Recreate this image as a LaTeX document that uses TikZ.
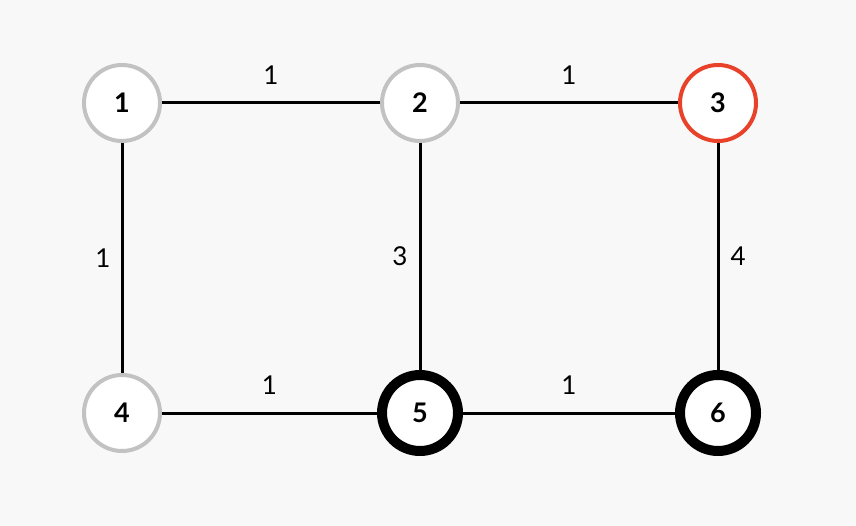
\documentclass[tikz,border=0pt]{standalone}
\usepackage{fontspec}
\setmainfont{Lato}
\usepackage{xcolor}
\usetikzlibrary{positioning}
\definecolor{bgcol}{HTML}{F8F8F8}
\definecolor{ringgray}{HTML}{C2C2C2}
\definecolor{ringred}{HTML}{E8432A}

\begin{document}
\begin{tikzpicture}[x=1pt, y=-1pt,
  vertex/.style={circle, fill=white, minimum size=76pt, inner sep=0pt,
    font=\fontsize{27}{30}\selectfont\bfseries},
  plain/.style={vertex, draw=ringgray, line width=4pt},
  start/.style={vertex, draw=ringred, line width=4pt},
  done/.style={vertex, draw=black, line width=10pt},
  edge/.style={line width=3pt},
  weight/.style={inner sep=0pt, font=\fontsize{26}{30}\selectfont}]
  \fill[bgcol] (0,0) rectangle (856,526);
  \useasboundingbox (0,0) rectangle (856,526);
  % vertices
  \node[plain] (n1) at (122,103) {1};
  \node[plain] (n2) at (420,103) {2};
  \node[start] (n3) at (718,103) {3};
  \node[plain] (n4) at (122,413) {4};
  \node[done]  (n5) at (420,413) {5};
  \node[done]  (n6) at (718,413) {6};
  % edges
  \draw[edge] (n1) -- node[weight, above=17pt] {1} (n2);
  \draw[edge] (n2) -- node[weight, above=17pt] {1} (n3);
  \draw[edge] (n1) -- node[weight, left=10pt] {1} (n4);
  \draw[edge] (n2) -- node[weight, left=11pt] {3} (n5);
  \draw[edge] (n3) -- node[weight, right=11pt] {4} (n6);
  \draw[edge] (n4) -- node[weight, above=17pt] {1} (n5);
  \draw[edge] (n5) -- node[weight, above=17pt] {1} (n6);
\end{tikzpicture}
\end{document}
